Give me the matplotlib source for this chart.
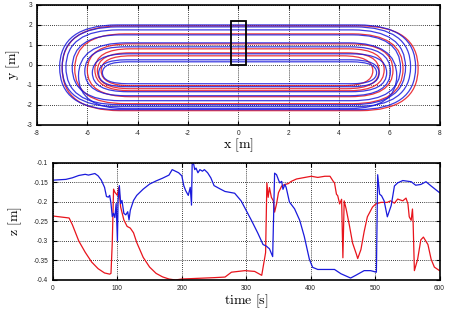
import matplotlib
matplotlib.use("Agg")
import matplotlib.pyplot as plt
from matplotlib.patches import FancyBboxPatch, Rectangle, BoxStyle

plt.rcParams['mathtext.fontset'] = 'cm'
plt.rcParams['font.family'] = ['Liberation Sans', 'DejaVu Sans']

# ---------------- top panel: laps (x_left, x_right, y_top, y_bottom, turn size)
lap_colors = ['red', 'blue', 'red', 'blue', 'blue', 'red', 'blue', 'red',
              'blue', 'red', 'blue', 'red', 'blue', 'blue', 'blue']
lap_xl = [-7.0, -7.1, -6.5, -7.0, -6.85, -6.0, -6.6, -5.7, -6.35, -5.6, -6.1, -5.45, -5.8, -5.55, -5.4]
lap_xr = [7.15, 7.05, 6.55, 6.85, 6.65, 6.15, 6.45, 5.8, 6.3, 5.6, 6.05, 5.35, 5.9, 5.6, 5.5]
lap_yt = [1.95, 2.0, 1.55, 1.9, 1.75, 1.05, 1.5, 0.8, 1.1, 0.6, 0.9, 0.45, 0.55, 0.25, 0.15]
lap_yb = [-2.3, -2.25, -1.95, -2.1, -2.0, -1.6, -1.8, -1.3, -2.2, -1.2, -1.55, -1.05, -1.35, -1.1, -0.95]
lap_turn = [2.3, 2.3, 2.0, 2.2, 2.1, 1.7, 1.9, 1.4, 1.9, 1.3, 1.6, 1.2, 1.4, 1.1, 1.0]

box_x = [-0.3, 0.3]
box_y = [0.0, 2.2]

xy_xticks = [-8, -6, -4, -2, 0, 2, 4, 6, 8]
xy_yticks = [-3, -2, -1, 0, 1, 2, 3]

# ---------------- bottom panel: z over time
t_blue = [0, 10, 20, 30, 40, 50, 55, 60, 65, 70, 75, 80, 83, 86, 88, 90, 92, 94, 96, 98,
          100, 101, 103, 105, 107, 110, 113, 116, 118, 120, 125, 130, 140, 150, 160, 170,
          180, 185, 190, 195, 200, 203, 206, 210, 213, 215, 216, 218, 220, 222, 225, 228,
          232, 235, 240, 245, 250, 255, 260, 267, 282, 292, 300, 308, 318, 326, 331, 336,
          341, 344, 347, 350, 352, 355, 357, 360, 362, 367, 375, 383, 390, 398, 403, 411,
          437, 447, 462, 470, 483, 493, 502, 504, 507, 510, 514, 519, 525, 530, 535, 543,
          556, 563, 571, 579, 587, 600]
z_blue = [-0.144, -0.143, -0.142, -0.138, -0.132, -0.129, -0.131, -0.129, -0.127, -0.133,
          -0.144, -0.1625, -0.186, -0.1875, -0.183, -0.204, -0.2375, -0.229, -0.24, -0.204,
          -0.3, -0.196, -0.158, -0.204, -0.196, -0.229, -0.233, -0.225, -0.246, -0.221,
          -0.196, -0.183, -0.167, -0.154, -0.146, -0.139, -0.131, -0.117, -0.121, -0.125,
          -0.133, -0.158, -0.171, -0.183, -0.1625, -0.208, -0.104, -0.1, -0.117, -0.113,
          -0.125, -0.117, -0.121, -0.117, -0.125, -0.138, -0.158, -0.1625, -0.167, -0.173,
          -0.1775, -0.197, -0.222, -0.247, -0.28, -0.309, -0.313, -0.32, -0.34, -0.126,
          -0.13, -0.143, -0.151, -0.147, -0.1675, -0.155, -0.163, -0.2, -0.2175, -0.247,
          -0.288, -0.347, -0.3675, -0.373, -0.373, -0.384, -0.395, -0.388, -0.376, -0.376,
          -0.38, -0.13, -0.18, -0.184, -0.197, -0.238, -0.209, -0.159, -0.151, -0.145,
          -0.148, -0.157, -0.155, -0.148, -0.159, -0.176]
t_red = [0, 10, 20, 25, 30, 40, 50, 60, 70, 80, 88, 90, 92, 94, 96, 98, 100, 102, 105, 110,
         115, 120, 125, 130, 140, 150, 160, 170, 180, 190, 200, 250, 267, 277, 298, 313,
         324, 330, 332, 334, 336, 339, 342, 344, 347, 350, 355, 360, 365, 370, 378, 391,
         401, 411, 422, 430, 435, 437, 440, 442, 445, 448, 450, 452, 455, 460, 465, 471,
         473, 478, 483, 488, 496, 501, 509, 519, 524, 530, 535, 543, 548, 551, 553, 556,
         558, 559, 561, 566, 571, 575, 582, 587, 592, 600]
z_red = [-0.236, -0.238, -0.24, -0.241, -0.258, -0.3, -0.329, -0.354, -0.371, -0.382,
         -0.385, -0.383, -0.304, -0.167, -0.175, -0.179, -0.183, -0.1625, -0.213, -0.246,
         -0.2625, -0.267, -0.279, -0.304, -0.342, -0.367, -0.383, -0.392, -0.3975, -0.4,
         -0.3975, -0.394, -0.3925, -0.38, -0.376, -0.378, -0.388, -0.33, -0.151, -0.188,
         -0.163, -0.188, -0.197, -0.226, -0.205, -0.176, -0.159, -0.155, -0.153, -0.147,
         -0.141, -0.137, -0.134, -0.137, -0.134, -0.134, -0.147, -0.151, -0.18, -0.184,
         -0.205, -0.193, -0.343, -0.197, -0.2175, -0.259, -0.305, -0.334, -0.345, -0.322,
         -0.276, -0.238, -0.213, -0.205, -0.201, -0.201, -0.197, -0.203, -0.1925, -0.197,
         -0.19, -0.205, -0.238, -0.247, -0.218, -0.251, -0.376, -0.347, -0.297, -0.29,
         -0.309, -0.347, -0.367, -0.376]

time_ticks = [0, 100, 200, 300, 400, 500, 600]
z_ticks = [-0.4, -0.35, -0.3, -0.25, -0.2, -0.15, -0.1]
z_ticklabels = ['-0.4', '-0.35', '-0.3', '-0.25', '-0.2', '-0.15', '-0.1']

RED = '#e8141c'
BLUE = '#1a1adc'
col = {'red': RED, 'blue': BLUE}

fig = plt.figure(figsize=(4.5, 3.1), dpi=100)
ax1 = fig.add_axes([0.0822, 0.598, 0.8945, 0.386])
ax2 = fig.add_axes([0.1178, 0.0968, 0.8589, 0.3774])


def style(ax):
    ax.grid(True, color='black', linestyle=(0, (1, 1.5)), linewidth=0.6)
    ax.set_axisbelow(True)
    ax.tick_params(direction='in', length=3, width=0.8, top=True, right=True,
                   labelsize=4.7, labelcolor='#222222', pad=3.6)
    for s in ax.spines.values():
        s.set_linewidth(1.2)


# top
for c, xl, xr, yt, yb, r in zip(lap_colors, lap_xl, lap_xr, lap_yt, lap_yb, lap_turn):
    h = yt - yb
    p = FancyBboxPatch((xl, yb), xr - xl, h,
                       boxstyle=BoxStyle.Round(pad=0, rounding_size=r),
                       mutation_aspect=(h / 2) / r,
                       facecolor='none', edgecolor=col[c], linewidth=0.9, alpha=0.85)
    ax1.add_patch(p)
ax1.add_patch(Rectangle((box_x[0], box_y[0]), box_x[1] - box_x[0], box_y[1] - box_y[0],
                        facecolor='none', edgecolor='black', linewidth=1.3, zorder=5))
ax1.set_xlim(-8, 8)
ax1.set_ylim(-3, 3)
ax1.set_xticks(xy_xticks)
ax1.set_yticks(xy_yticks)
ax1.set_xticklabels([str(v) for v in xy_xticks])
ax1.set_yticklabels([str(v) for v in xy_yticks])
style(ax1)
ax1.set_xlabel(r'$\mathrm{x}\ [\mathrm{m}]$', fontsize=10)
ax1.set_ylabel(r'$\mathrm{y}\ [\mathrm{m}]$', fontsize=10)
ax1.xaxis.label.set_va('center')
ax1.yaxis.label.set_va('center')
ax1.xaxis.set_label_coords(0.5, -0.175)
ax1.yaxis.set_label_coords(-0.058, 0.5)

# bottom
ax2.plot(t_red, z_red, color=RED, linewidth=0.9)
ax2.plot(t_blue, z_blue, color=BLUE, linewidth=0.9)
ax2.set_xlim(0, 600)
ax2.set_ylim(-0.4, -0.1)
ax2.set_xticks(time_ticks)
ax2.set_xticklabels([str(v) for v in time_ticks])
ax2.set_yticks(z_ticks)
ax2.set_yticklabels(z_ticklabels)
style(ax2)
ax2.set_xlabel(r'$\mathrm{time}\ [\mathrm{s}]$', fontsize=10)
ax2.set_ylabel(r'$\mathrm{z}\ [\mathrm{m}]$', fontsize=10)
ax2.xaxis.label.set_va('center')
ax2.yaxis.label.set_va('center')
ax2.xaxis.set_label_coords(0.5, -0.18)
ax2.yaxis.set_label_coords(-0.098, 0.5)

fig.savefig('out.png', dpi=100)
